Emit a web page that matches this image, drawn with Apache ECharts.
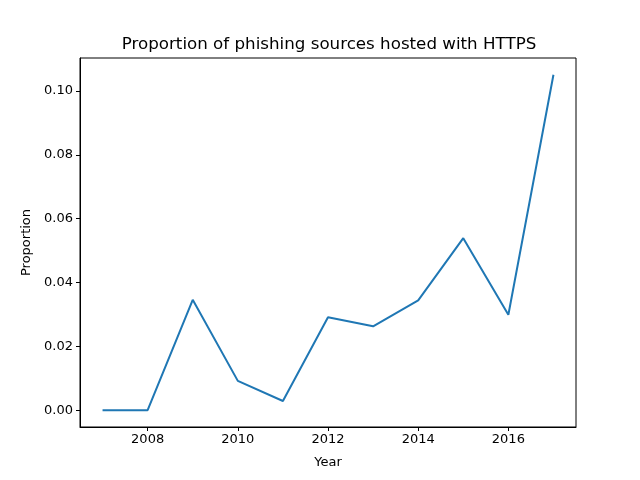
<!DOCTYPE html>
<html>
<head>
<meta charset="utf-8">
<script src="https://cdn.jsdelivr.net/npm/echarts@6/dist/echarts.min.js"></script>
<style>
  html, body { margin: 0; padding: 0; background: #fff; }
  #container { width: 640px; height: 480px; }
</style>
</head>
<body>
<div id="container"></div>
<script>
var years = [2007, 2008, 2009, 2010, 2011, 2012, 2013, 2014, 2015, 2016, 2017];
var proportion = [0.0, 0.0, 0.0346, 0.0092, 0.0029, 0.0291, 0.0263, 0.0344, 0.0539, 0.0299, 0.1051];
var xTicks = [2008, 2010, 2012, 2014, 2016];
var yTicks = [0.00, 0.02, 0.04, 0.06, 0.08, 0.10];

var myChart = echarts.init(document.getElementById('container'), null, { renderer: 'canvas' });
var font = 'DejaVu Sans';

// matplotlib-like margins: 5% padding around the data range
var yMax = Math.max.apply(null, proportion);
var yMin = Math.min.apply(null, proportion);
var yPad = (yMax - yMin) * 0.05;
var xPad = (years[years.length - 1] - years[0]) * 0.05;

var points = [];
for (var i = 0; i < years.length; ++i) {
	points.push([years[i], proportion[i]]);
}

var option = {
	animation: false,
	backgroundColor: '#ffffff',
	title: {
		text: 'Proportion of phishing sources hosted with HTTPS',
		left: 324,
		top: 31,
		textAlign: 'center',
		textStyle: { fontFamily: font, fontSize: 16.7, fontWeight: 'normal', color: '#000' }
	},
	grid: {
		left: 80, right: 64, top: 58, bottom: 53,
		show: true, borderColor: '#000', borderWidth: 1, backgroundColor: 'transparent'
	},
	xAxis: {
		type: 'value',
		min: years[0] - xPad,
		max: years[years.length - 1] + xPad,
		name: 'Year',
		nameLocation: 'middle',
		nameGap: 29,
		nameTextStyle: { fontFamily: font, fontSize: 13, color: '#000' },
		splitLine: { show: false },
		axisLine: { show: true, onZero: false, lineStyle: { color: '#000', width: 1 } },
		axisTick: { show: true, inside: false, length: 4, lineStyle: { color: '#000' }, customValues: xTicks },
		axisLabel: {
			fontFamily: font, fontSize: 13, color: '#000', margin: 6,
			customValues: xTicks,
			formatter: function (v) { return String(v); }
		}
	},
	yAxis: {
		type: 'value',
		min: yMin - yPad,
		max: yMax + yPad,
		name: 'Proportion',
		nameLocation: 'middle',
		nameGap: 47,
		nameTextStyle: { fontFamily: font, fontSize: 13, color: '#000' },
		splitLine: { show: false },
		axisLine: { show: true, onZero: false, lineStyle: { color: '#000', width: 1 } },
		axisTick: { show: true, inside: false, length: 4, lineStyle: { color: '#000' }, customValues: yTicks },
		axisLabel: {
			fontFamily: font, fontSize: 13, color: '#000', margin: 7,
			customValues: yTicks,
			formatter: function (v) { return v.toFixed(2); }
		}
	},
	series: [
		{
			name: 'Proportion',
			type: 'line',
			data: points,
			showSymbol: false,
			symbol: 'none',
			lineStyle: { color: '#1f77b4', width: 2 },
			itemStyle: { color: '#1f77b4' }
		}
	]
};
myChart.setOption(option);
</script>
</body>
</html>
